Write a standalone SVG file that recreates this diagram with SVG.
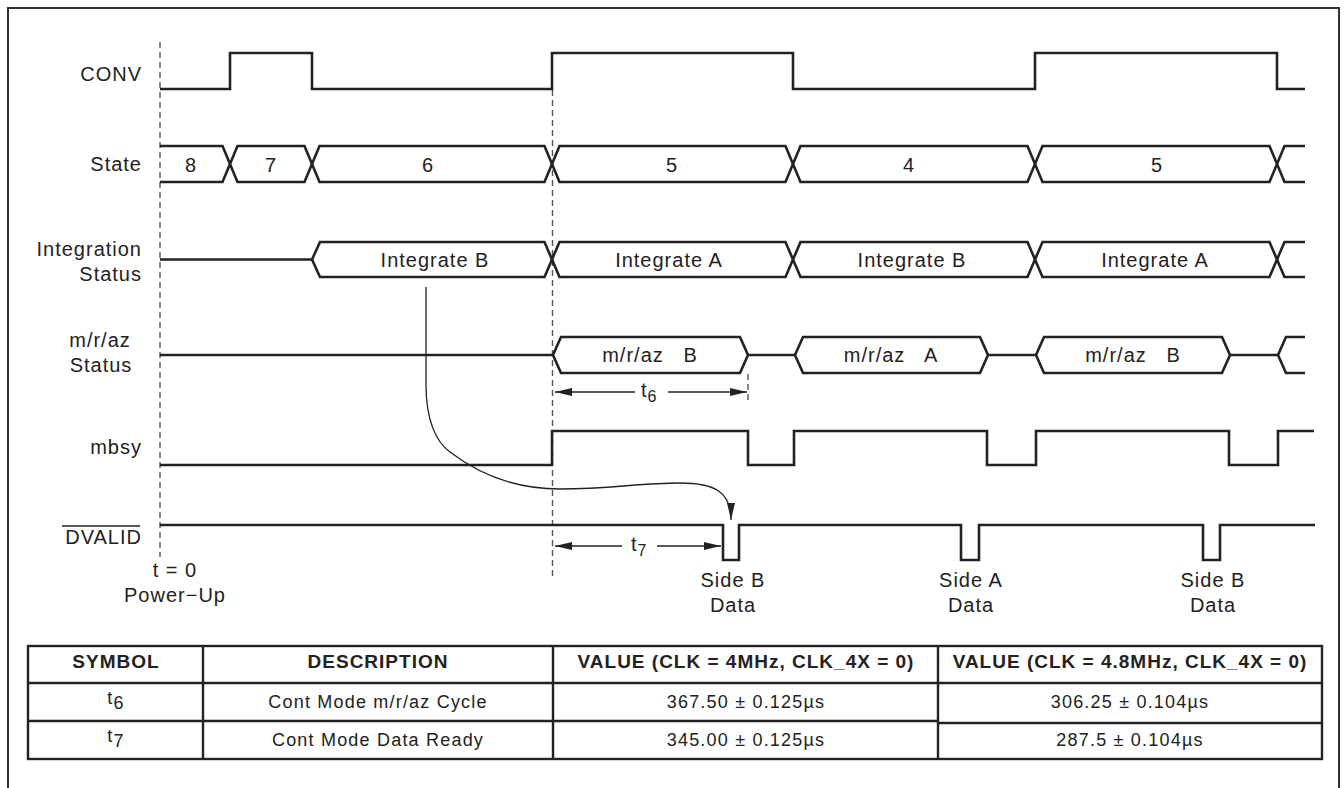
<svg xmlns="http://www.w3.org/2000/svg" width="1344" height="788" viewBox="0 0 1344 788">
<defs>
<style>
.sig{fill:none;stroke:#222;stroke-width:2.6;stroke-linejoin:miter}
.dash{fill:none;stroke:#555;stroke-width:1.4;stroke-dasharray:6 4}
.thin{fill:none;stroke:#222;stroke-width:1.3}
.tb{fill:none;stroke:#222;stroke-width:2.4}
text{font-family:"Liberation Sans",Arial,sans-serif;fill:#222}
.lbl{font-size:20px;letter-spacing:1px}
.r{text-anchor:end}
.c{text-anchor:middle}
.th{font-size:19px;font-weight:bold;letter-spacing:1px;text-anchor:middle}
.td{font-size:18px;letter-spacing:1.2px;text-anchor:middle}
</style>
<marker id="ah" viewBox="0 0 17 8" refX="17" refY="4" markerWidth="17" markerHeight="8" markerUnits="userSpaceOnUse" orient="auto-start-reverse">
<path d="M0,0 L17,4 L0,8 z" fill="#222"/>
</marker>
</defs>
<rect x="8" y="8" width="1331" height="800" fill="none" stroke="#333" stroke-width="2"/>

<g id="guides">
<line class="dash" x1="160" y1="42" x2="160" y2="557"/>
<line class="dash" x1="552.5" y1="90" x2="552.5" y2="580"/>
<line class="dash" x1="748" y1="374" x2="748" y2="402"/>
</g>

<g id="conv">
<text class="lbl r" x="142" y="81">CONV</text>
<polyline class="sig" points="160,89 230,89 230,53 312,53 312,89 552,89 552,53 793,53 793,89 1035,89 1035,53 1277,53 1277,89 1305,89"/>
</g>

<g id="state">
<text class="lbl r" x="142" y="171">State</text>
<path class="sig" d="M160,146 L222.5,146 L237.5,182 L304.5,182 L319.5,146 L544.5,146 L559.5,182 L785.5,182 L800.5,146 L1027.5,146 L1042.5,182 L1269.5,182 L1284.5,146 L1305,146"/>
<path class="sig" d="M160,182 L222.5,182 L237.5,146 L304.5,146 L319.5,182 L544.5,182 L559.5,146 L785.5,146 L800.5,182 L1027.5,182 L1042.5,146 L1269.5,146 L1284.5,182 L1305,182"/>
<text class="lbl c" x="191" y="172">8</text>
<text class="lbl c" x="271" y="172">7</text>
<text class="lbl c" x="428" y="172">6</text>
<text class="lbl c" x="672" y="172">5</text>
<text class="lbl c" x="909" y="172">4</text>
<text class="lbl c" x="1157" y="172">5</text>
</g>

<g id="integration">
<text class="lbl r" x="142" y="256">Integration</text>
<text class="lbl r" x="142" y="281">Status</text>
<path class="sig" d="M160,259.5 L312,259.5 L320,242 L544.5,242 L559.5,277 L785.5,277 L800.5,242 L1027.5,242 L1042.5,277 L1269.5,277 L1284.5,242 L1305,242"/>
<path class="sig" d="M312,259.5 L320,277 L544.5,277 L559.5,242 L785.5,242 L800.5,277 L1027.5,277 L1042.5,242 L1269.5,242 L1284.5,277 L1305,277"/>
<text class="lbl c" x="435" y="267">Integrate B</text>
<text class="lbl c" x="669" y="267">Integrate A</text>
<text class="lbl c" x="912" y="267">Integrate B</text>
<text class="lbl c" x="1155" y="267">Integrate A</text>
</g>

<g id="mraz">
<text class="lbl c" x="100" y="347">m/r/az</text>
<text class="lbl c" x="101" y="372">Status</text>
<polyline class="sig" points="160,355 553,355"/>
<polygon class="sig" points="553,355 561,337 740,337 748,355 740,373 561,373"/>
<polyline class="sig" points="748,355 795,355"/>
<polygon class="sig" points="795,355 803,337 980,337 988,355 980,373 803,373"/>
<polyline class="sig" points="988,355 1036,355"/>
<polygon class="sig" points="1036,355 1044,337 1222,337 1230,355 1222,373 1044,373"/>
<polyline class="sig" points="1230,355 1278,355"/>
<polyline class="sig" points="1305,337 1286,337 1278,355 1286,373 1305,373"/>
<text class="lbl c" x="650" y="362" xml:space="preserve">m/r/az   B</text>
<text class="lbl c" x="891" y="362" xml:space="preserve">m/r/az   A</text>
<text class="lbl c" x="1133" y="362" xml:space="preserve">m/r/az   B</text>
</g>

<g id="t6">
<line class="thin" x1="555" y1="392" x2="635" y2="392" marker-start="url(#ah)"/>
<line class="thin" x1="668" y1="392" x2="747" y2="392" marker-end="url(#ah)"/>
<text class="lbl" x="641" y="397">t<tspan font-size="16" dy="5">6</tspan></text>
</g>

<g id="mbsy">
<text class="lbl r" x="142" y="454">mbsy</text>
<polyline class="sig" points="160,465 552,465 552,431 748,431 748,465 794,465 794,431 987,431 987,465 1036,465 1036,431 1229,431 1229,465 1278,465 1278,431 1314,431"/>
</g>

<g id="dvalid">
<text class="lbl r" x="142" y="544">DVALID</text>
<line x1="62" y1="526" x2="140" y2="526" stroke="#222" stroke-width="1.5"/>
<polyline class="sig" points="160,525 723,525 723,560 739,560 739,525 961,525 961,560 979,560 979,525 1203,525 1203,560 1220,560 1220,525 1315,525"/>
<text class="lbl c" x="733" y="587">Side B</text>
<text class="lbl c" x="733" y="612">Data</text>
<text class="lbl c" x="971" y="587">Side A</text>
<text class="lbl c" x="971" y="612">Data</text>
<text class="lbl c" x="1213" y="587">Side B</text>
<text class="lbl c" x="1213" y="612">Data</text>
<text class="lbl c" x="175" y="577">t = 0</text>
<text class="lbl c" x="175" y="602">Power−Up</text>
</g>

<g id="t7">
<line class="thin" x1="555" y1="546" x2="622" y2="546" marker-start="url(#ah)"/>
<line class="thin" x1="657" y1="546" x2="721" y2="546" marker-end="url(#ah)"/>
<text class="lbl" x="631" y="551">t<tspan font-size="16" dy="5">7</tspan></text>
</g>

<g id="connectors">
<path class="thin" d="M426,287 L426,385 C426,420 436,442 450,452 C480,475 515,489 560,489 C610,489 640,483 680,483 C715,483 731,492 731,520" marker-end="url(#ah)"/>
</g>

<g id="table">
<rect class="tb" x="28" y="646" width="1294" height="113"/>
<line class="tb" x1="28" y1="683" x2="1322" y2="683"/>
<line class="tb" x1="28" y1="721" x2="938" y2="721"/>
<line class="tb" x1="938" y1="723" x2="1322" y2="723"/>
<line class="tb" x1="203" y1="646" x2="203" y2="759"/>
<line class="tb" x1="553" y1="646" x2="553" y2="759"/>
<line class="tb" x1="938" y1="646" x2="938" y2="759"/>
<text class="th" x="116" y="668">SYMBOL</text>
<text class="th" x="378" y="668">DESCRIPTION</text>
<text class="th" x="746" y="668">VALUE (CLK = 4MHz, CLK_4X = 0)</text>
<text class="th" x="1130" y="668">VALUE (CLK = 4.8MHz, CLK_4X = 0)</text>
<text class="td" x="116" y="704">t<tspan dy="5">6</tspan></text>
<text class="td" x="378" y="708">Cont Mode m/r/az Cycle</text>
<text class="td" x="746" y="708">367.50 ± 0.125µs</text>
<text class="td" x="1130" y="708">306.25 ± 0.104µs</text>
<text class="td" x="116" y="742">t<tspan dy="5">7</tspan></text>
<text class="td" x="378" y="746">Cont Mode Data Ready</text>
<text class="td" x="746" y="746">345.00 ± 0.125µs</text>
<text class="td" x="1130" y="746">287.5 ± 0.104µs</text>
</g>
</svg>
